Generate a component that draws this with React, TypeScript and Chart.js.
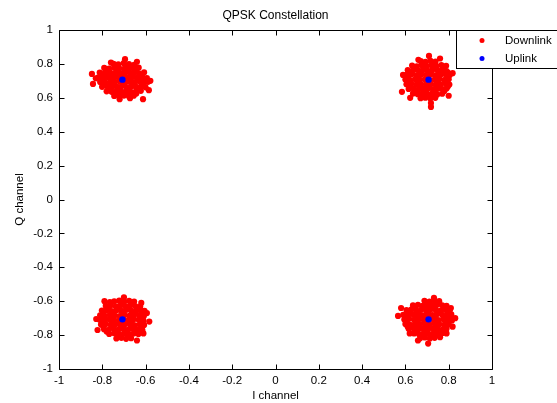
import React, { useEffect, useRef } from "react";
import { Chart, registerables } from "chart.js";

Chart.register(...registerables);

const chartTitle = "QPSK Constellation";
const xTitle = "I channel";
const yTitle = "Q channel";
const seriesNames = ["Downlink", "Uplink"];
const seriesColors = ["#ff0000", "#0000ff"];
const axisMin = -1;
const axisMax = 1;
const axisStep = 0.2;

const downlinkTL = [
  [-0.748, 0.801], [-0.726, 0.797], [-0.701, 0.804], [-0.677, 0.799], [-0.653, 0.795],
  [-0.791, 0.776], [-0.769, 0.772], [-0.745, 0.779], [-0.722, 0.774], [-0.699, 0.771], [-0.678, 0.777], [-0.655, 0.773], [-0.632, 0.778],
  [-0.812, 0.749], [-0.789, 0.745], [-0.766, 0.751], [-0.744, 0.746], [-0.721, 0.748], [-0.698, 0.744], [-0.675, 0.751], [-0.652, 0.747], [-0.629, 0.743], [-0.607, 0.75],
  [-0.818, 0.721], [-0.795, 0.718], [-0.772, 0.723], [-0.75, 0.719], [-0.728, 0.722], [-0.705, 0.717], [-0.683, 0.72], [-0.66, 0.724], [-0.638, 0.718], [-0.615, 0.721], [-0.594, 0.716],
  [-0.81, 0.693], [-0.788, 0.696], [-0.765, 0.69], [-0.742, 0.694], [-0.72, 0.697], [-0.697, 0.691], [-0.675, 0.695], [-0.652, 0.692], [-0.63, 0.697], [-0.607, 0.69], [-0.589, 0.694],
  [-0.801, 0.665], [-0.778, 0.668], [-0.755, 0.662], [-0.733, 0.666], [-0.71, 0.669], [-0.688, 0.663], [-0.665, 0.667], [-0.643, 0.664], [-0.62, 0.668], [-0.6, 0.662],
  [-0.78, 0.638], [-0.757, 0.635], [-0.734, 0.64], [-0.712, 0.636], [-0.69, 0.639], [-0.667, 0.634], [-0.645, 0.637], [-0.622, 0.641],
  [-0.745, 0.611], [-0.722, 0.608], [-0.7, 0.613], [-0.677, 0.609], [-0.655, 0.612],
  [-0.848, 0.741], [-0.843, 0.682], [-0.83, 0.715], [-0.585, 0.645], [-0.612, 0.592], [-0.672, 0.598], [-0.578, 0.7], [-0.695, 0.828], [-0.64, 0.812], [-0.76, 0.808], [-0.72, 0.592],
  [-0.735, 0.787], [-0.69, 0.786], [-0.665, 0.788],
  [-0.78, 0.761], [-0.733, 0.762], [-0.688, 0.76], [-0.643, 0.763],
  [-0.8, 0.734], [-0.755, 0.735], [-0.71, 0.733], [-0.664, 0.736], [-0.618, 0.734],
  [-0.806, 0.707], [-0.76, 0.706], [-0.716, 0.708], [-0.67, 0.707], [-0.62, 0.706], [-0.6, 0.705],
  [-0.79, 0.68], [-0.744, 0.679], [-0.7, 0.681], [-0.654, 0.68], [-0.61, 0.678],
  [-0.768, 0.651], [-0.723, 0.652], [-0.678, 0.65], [-0.633, 0.652],
  [-0.733, 0.624], [-0.688, 0.623], [-0.643, 0.625],
];

const downlinkTR = [
  [0.671, 0.816], [0.693, 0.812], [0.716, 0.818], [0.739, 0.813],
  [0.631, 0.79], [0.653, 0.786], [0.676, 0.792], [0.698, 0.788], [0.721, 0.791], [0.743, 0.787], [0.766, 0.793], [0.788, 0.789],
  [0.611, 0.763], [0.633, 0.759], [0.655, 0.765], [0.678, 0.761], [0.7, 0.764], [0.722, 0.76], [0.745, 0.766], [0.767, 0.762], [0.79, 0.758],
  [0.605, 0.735], [0.627, 0.739], [0.65, 0.733], [0.672, 0.737], [0.695, 0.734], [0.717, 0.738], [0.74, 0.732], [0.762, 0.736], [0.785, 0.74], [0.805, 0.734],
  [0.6, 0.708], [0.622, 0.705], [0.645, 0.71], [0.667, 0.706], [0.69, 0.709], [0.712, 0.704], [0.735, 0.708], [0.757, 0.711], [0.78, 0.705], [0.8, 0.709],
  [0.605, 0.68], [0.627, 0.683], [0.65, 0.677], [0.672, 0.681], [0.695, 0.678], [0.717, 0.682], [0.74, 0.676], [0.762, 0.68], [0.785, 0.684], [0.803, 0.678],
  [0.615, 0.652], [0.637, 0.655], [0.66, 0.649], [0.682, 0.653], [0.705, 0.656], [0.727, 0.65], [0.75, 0.654], [0.772, 0.651], [0.79, 0.655],
  [0.635, 0.625], [0.657, 0.621], [0.68, 0.627], [0.702, 0.623], [0.725, 0.626], [0.747, 0.62], [0.77, 0.624],
  [0.67, 0.598], [0.692, 0.601], [0.715, 0.596], [0.738, 0.6],
  [0.589, 0.735], [0.584, 0.635], [0.709, 0.847], [0.718, 0.569], [0.718, 0.546], [0.8, 0.612], [0.818, 0.745], [0.66, 0.824], [0.76, 0.832], [0.622, 0.6],
  [0.682, 0.803], [0.727, 0.802],
  [0.642, 0.777], [0.687, 0.776], [0.732, 0.778], [0.777, 0.775],
  [0.622, 0.749], [0.667, 0.75], [0.711, 0.748], [0.756, 0.751], [0.796, 0.749],
  [0.612, 0.721], [0.656, 0.722], [0.701, 0.72], [0.746, 0.723], [0.79, 0.721],
  [0.612, 0.694], [0.656, 0.693], [0.701, 0.695], [0.746, 0.692], [0.792, 0.694],
  [0.62, 0.666], [0.667, 0.667], [0.711, 0.665], [0.756, 0.668], [0.796, 0.666],
  [0.646, 0.638], [0.691, 0.639], [0.736, 0.637], [0.78, 0.64],
  [0.68, 0.611], [0.726, 0.612],
];

const downlinkBL = [
  [-0.745, -0.601], [-0.722, -0.597], [-0.699, -0.603], [-0.676, -0.598], [-0.653, -0.602],
  [-0.784, -0.628], [-0.761, -0.624], [-0.738, -0.63], [-0.716, -0.626], [-0.693, -0.631], [-0.671, -0.625], [-0.648, -0.629], [-0.625, -0.632],
  [-0.802, -0.655], [-0.779, -0.652], [-0.757, -0.658], [-0.734, -0.654], [-0.712, -0.657], [-0.689, -0.651], [-0.667, -0.656], [-0.644, -0.659], [-0.622, -0.653], [-0.605, -0.657],
  [-0.81, -0.683], [-0.788, -0.687], [-0.765, -0.681], [-0.743, -0.685], [-0.72, -0.688], [-0.698, -0.682], [-0.675, -0.686], [-0.653, -0.68], [-0.63, -0.684], [-0.608, -0.688],
  [-0.812, -0.71], [-0.79, -0.713], [-0.767, -0.707], [-0.745, -0.711], [-0.722, -0.714], [-0.7, -0.708], [-0.677, -0.712], [-0.655, -0.706], [-0.632, -0.71], [-0.61, -0.714],
  [-0.806, -0.738], [-0.784, -0.734], [-0.761, -0.74], [-0.739, -0.736], [-0.716, -0.741], [-0.694, -0.735], [-0.671, -0.739], [-0.649, -0.742], [-0.626, -0.736], [-0.607, -0.74],
  [-0.792, -0.765], [-0.77, -0.769], [-0.747, -0.763], [-0.725, -0.767], [-0.702, -0.764], [-0.68, -0.768], [-0.657, -0.762], [-0.635, -0.766], [-0.615, -0.77],
  [-0.768, -0.793], [-0.745, -0.789], [-0.723, -0.795], [-0.7, -0.791], [-0.678, -0.796], [-0.655, -0.79], [-0.633, -0.794],
  [-0.735, -0.82], [-0.712, -0.816], [-0.69, -0.822], [-0.667, -0.818],
  [-0.79, -0.6], [-0.822, -0.77], [-0.64, -0.832], [-0.594, -0.67], [-0.7, -0.578], [-0.583, -0.72], [-0.828, -0.705], [-0.61, -0.79], [-0.62, -0.61], [-0.765, -0.605],
  [-0.71, -0.614], [-0.665, -0.615],
  [-0.773, -0.641], [-0.727, -0.642], [-0.682, -0.64], [-0.637, -0.643],
  [-0.796, -0.669], [-0.75, -0.67], [-0.705, -0.668], [-0.66, -0.671], [-0.615, -0.67],
  [-0.8, -0.697], [-0.755, -0.698], [-0.71, -0.696], [-0.664, -0.699], [-0.62, -0.697],
  [-0.8, -0.724], [-0.755, -0.725], [-0.71, -0.723], [-0.664, -0.726], [-0.62, -0.724],
  [-0.795, -0.751], [-0.75, -0.752], [-0.705, -0.75], [-0.66, -0.753], [-0.618, -0.751],
  [-0.78, -0.779], [-0.735, -0.78], [-0.69, -0.778], [-0.645, -0.781],
  [-0.724, -0.806], [-0.68, -0.807],
];

const downlinkBR = [
  [0.688, -0.598], [0.711, -0.602], [0.733, -0.596], [0.756, -0.6],
  [0.635, -0.625], [0.658, -0.621], [0.68, -0.627], [0.703, -0.623], [0.725, -0.626], [0.748, -0.62], [0.77, -0.624], [0.79, -0.628],
  [0.605, -0.652], [0.627, -0.649], [0.65, -0.655], [0.672, -0.651], [0.695, -0.654], [0.717, -0.648], [0.74, -0.652], [0.762, -0.656], [0.785, -0.65], [0.805, -0.654],
  [0.59, -0.68], [0.612, -0.683], [0.635, -0.677], [0.657, -0.681], [0.68, -0.684], [0.702, -0.678], [0.725, -0.682], [0.747, -0.676], [0.77, -0.68], [0.792, -0.684], [0.812, -0.678],
  [0.595, -0.708], [0.617, -0.704], [0.64, -0.71], [0.662, -0.706], [0.685, -0.711], [0.707, -0.705], [0.73, -0.709], [0.752, -0.712], [0.775, -0.706], [0.797, -0.71], [0.815, -0.714],
  [0.6, -0.735], [0.622, -0.739], [0.645, -0.733], [0.667, -0.737], [0.69, -0.734], [0.712, -0.738], [0.735, -0.732], [0.757, -0.736], [0.78, -0.74], [0.8, -0.734],
  [0.615, -0.763], [0.637, -0.759], [0.66, -0.765], [0.682, -0.761], [0.705, -0.766], [0.727, -0.76], [0.75, -0.764], [0.772, -0.768], [0.79, -0.762],
  [0.64, -0.79], [0.662, -0.794], [0.685, -0.788], [0.707, -0.792], [0.73, -0.789], [0.752, -0.793], [0.772, -0.787],
  [0.668, -0.818], [0.69, -0.814], [0.713, -0.82], [0.735, -0.816],
  [0.566, -0.687], [0.732, -0.58], [0.83, -0.7], [0.818, -0.75], [0.658, -0.832], [0.705, -0.85], [0.76, -0.812], [0.58, -0.64], [0.81, -0.64], [0.62, -0.79], [0.79, -0.79],
  [0.7, -0.611], [0.745, -0.612],
  [0.646, -0.638], [0.69, -0.639], [0.736, -0.637], [0.78, -0.64],
  [0.616, -0.666], [0.66, -0.667], [0.706, -0.665], [0.75, -0.668], [0.795, -0.666],
  [0.6, -0.694], [0.646, -0.695], [0.69, -0.693], [0.736, -0.696], [0.78, -0.694], [0.805, -0.695],
  [0.606, -0.721], [0.652, -0.722], [0.696, -0.72], [0.742, -0.723], [0.786, -0.721],
  [0.61, -0.749], [0.655, -0.75], [0.7, -0.748], [0.745, -0.751], [0.79, -0.749],
  [0.65, -0.777], [0.695, -0.778], [0.74, -0.776], [0.78, -0.777],
  [0.68, -0.804], [0.724, -0.805],
];

const uplinkPoints = [
  [-0.707, 0.707], [0.707, 0.707], [-0.707, -0.707], [0.707, -0.707],
];

const FONT = "'Liberation Sans', Arial, Helvetica, sans-serif";

const toXY = (pts: number[][]) => pts.map(([x, y]) => ({ x, y }));

const fmt = (v: number) => {
  const r = Number(Number(v).toFixed(1));
  return r === 0 ? "0" : String(r);
};

const framePlugin = {
  id: "matlabFrame",
  afterDraw(chart: any) {
    const { ctx, chartArea, scales } = chart;
    const { left, right, top, bottom } = chartArea;
    const L = Math.round(left) + 0.5;
    const R = Math.round(right) + 0.5;
    const T = Math.round(top) + 0.5;
    const B = Math.round(bottom) + 0.5;
    ctx.save();
    ctx.strokeStyle = "#000";
    ctx.lineWidth = 1;
    ctx.beginPath();
    ctx.rect(L, T, R - L, B - T);
    const tl = 5;
    scales.x.ticks.forEach((t: any) => {
      const px = Math.round(scales.x.getPixelForValue(t.value)) + 0.5;
      ctx.moveTo(px, B);
      ctx.lineTo(px, B - tl);
      ctx.moveTo(px, T);
      ctx.lineTo(px, T + tl);
    });
    scales.y.ticks.forEach((t: any) => {
      const py = Math.round(scales.y.getPixelForValue(t.value)) + 0.5;
      ctx.moveTo(L, py);
      ctx.lineTo(L + tl, py);
      ctx.moveTo(R, py);
      ctx.lineTo(R - tl, py);
    });
    ctx.stroke();

    // legend box (MATLAB style, top-right)
    const bx = 456.5;
    const by = T;
    const bw = 120;
    const bh = 38;
    ctx.fillStyle = "#fff";
    ctx.fillRect(bx, by, bw, bh);
    ctx.strokeRect(bx, by, bw, bh);
    ctx.font = `11.5px ${FONT}`;
    ctx.textBaseline = "middle";
    ctx.textAlign = "left";
    chart.data.datasets.forEach((ds: any, i: number) => {
      const cy = by + 10 + i * 18;
      ctx.fillStyle = ds.backgroundColor;
      ctx.beginPath();
      ctx.arc(482, cy, 2.5, 0, Math.PI * 2);
      ctx.fill();
      ctx.fillStyle = "#000";
      ctx.fillText(ds.label, 505, cy);
    });
    ctx.restore();
  },
};

export default function App() {
  const ref = useRef<HTMLCanvasElement | null>(null);

  useEffect(() => {
    if (!ref.current) return;
    const downlink = [...downlinkTL, ...downlinkTR, ...downlinkBL, ...downlinkBR];
    const chart = new Chart(ref.current, {
      type: "scatter",
      data: {
        datasets: [
          {
            label: seriesNames[0],
            data: toXY(downlink),
            backgroundColor: seriesColors[0],
            borderColor: seriesColors[0],
            borderWidth: 0,
            pointRadius: 3.1,
            pointHoverRadius: 3.1,
            order: 1,
          },
          {
            label: seriesNames[1],
            data: toXY(uplinkPoints),
            backgroundColor: seriesColors[1],
            borderColor: seriesColors[1],
            borderWidth: 0,
            pointRadius: 3.2,
            pointHoverRadius: 3.2,
            order: 0,
          },
        ],
      },
      options: {
        animation: false,
        responsive: true,
        maintainAspectRatio: false,
        events: [],
        layout: { padding: { left: 0, right: 65, top: 0, bottom: 0 } },
        plugins: {
          legend: { display: false },
          tooltip: { enabled: false },
          title: {
            display: true,
            text: chartTitle,
            fullSize: false,
            color: "#000",
            font: { family: FONT, size: 12, weight: "normal", lineHeight: 1.2 },
            padding: { top: 8, bottom: 7.6 },
          },
        },
        scales: {
          x: {
            type: "linear",
            min: axisMin,
            max: axisMax,
            grid: { display: false, drawTicks: false },
            border: { display: false },
            ticks: {
              stepSize: axisStep,
              padding: 5,
              color: "#000",
              font: { family: FONT, size: 11.5 },
              callback: (v: any) => fmt(v),
              maxRotation: 0,
            },
            title: {
              display: true,
              text: xTitle,
              color: "#000",
              font: { family: FONT, size: 11.5, lineHeight: 1.2 },
              padding: { top: 0, bottom: 0 },
            },
            afterFit: (s: any) => {
              s.height = 34;
            },
          },
          y: {
            type: "linear",
            min: axisMin,
            max: axisMax,
            grid: { display: false, drawTicks: false },
            border: { display: false },
            ticks: {
              stepSize: axisStep,
              padding: 6,
              color: "#000",
              font: { family: FONT, size: 11.5 },
              callback: (v: any) => fmt(v),
            },
            title: {
              display: true,
              text: yTitle,
              color: "#000",
              font: { family: FONT, size: 11.5, lineHeight: 1.2 },
              padding: { top: 13, bottom: 0 },
            },
            afterFit: (s: any) => {
              s.width = 59;
            },
          },
        },
      },
      plugins: [framePlugin],
    });
    return () => chart.destroy();
  }, []);

  return (
    <div style={{ position: "fixed", left: 0, top: 0, width: 557, height: 403, background: "#fff" }}>
      <canvas ref={ref} />
    </div>
  );
}
